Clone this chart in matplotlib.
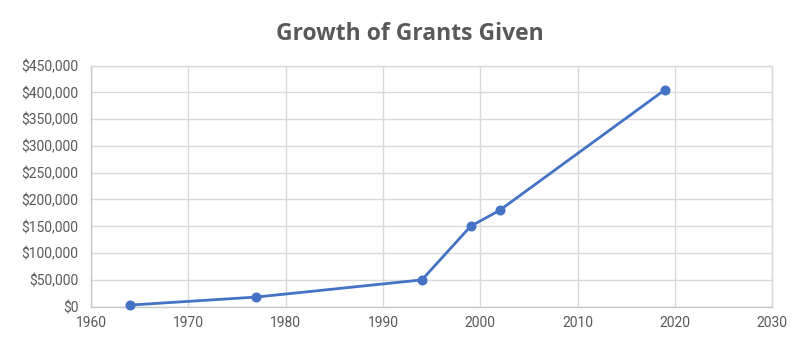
import matplotlib
matplotlib.use("Agg")
import matplotlib.pyplot as plt
from matplotlib.ticker import FuncFormatter, MultipleLocator

years = [1964, 1977, 1994, 1999, 2002, 2019]
grants = [3000, 18000, 50000, 150000, 180000, 405000]

title = "Growth of Grants Given"
line_color = "#4472C4"
text_color = "#595959"
grid_color = "#d9d9d9"

fig = plt.figure(figsize=(8, 3.56), dpi=100)
ax = fig.add_axes([0.11375, 0.1385, 0.8516, 0.6775])
ax.plot(years, grants, color=line_color, lw=2, marker="o", ms=6.2, zorder=3, clip_on=False)
ax.set_xlim(1960, 2030)
ax.set_ylim(0, 450000)
ax.xaxis.set_major_locator(MultipleLocator(10))
ax.yaxis.set_major_locator(MultipleLocator(50000))
ax.yaxis.set_major_formatter(FuncFormatter(lambda v, p: f"${v:,.0f}"))
ax.grid(True, color=grid_color, lw=1)
ax.set_axisbelow(True)
for s in ax.spines.values():
    s.set_color(grid_color)
    s.set_linewidth(1)
ax.spines["left"].set_color("#c8c8c8")
ax.spines["bottom"].set_color("#c8c8c8")
ax.tick_params(length=0, labelsize=10, labelcolor=text_color)
for lab in ax.get_xticklabels() + ax.get_yticklabels():
    lab.set_fontfamily("Roboto")
ax.tick_params(axis="y", pad=9)
ax.tick_params(axis="x", pad=7)
fig.text(0.5125, 0.905, title, ha="center", va="center", fontsize=16.5, fontweight="bold",
         color=text_color, family="Open Sans")
fig.savefig("out.png", dpi=100)
